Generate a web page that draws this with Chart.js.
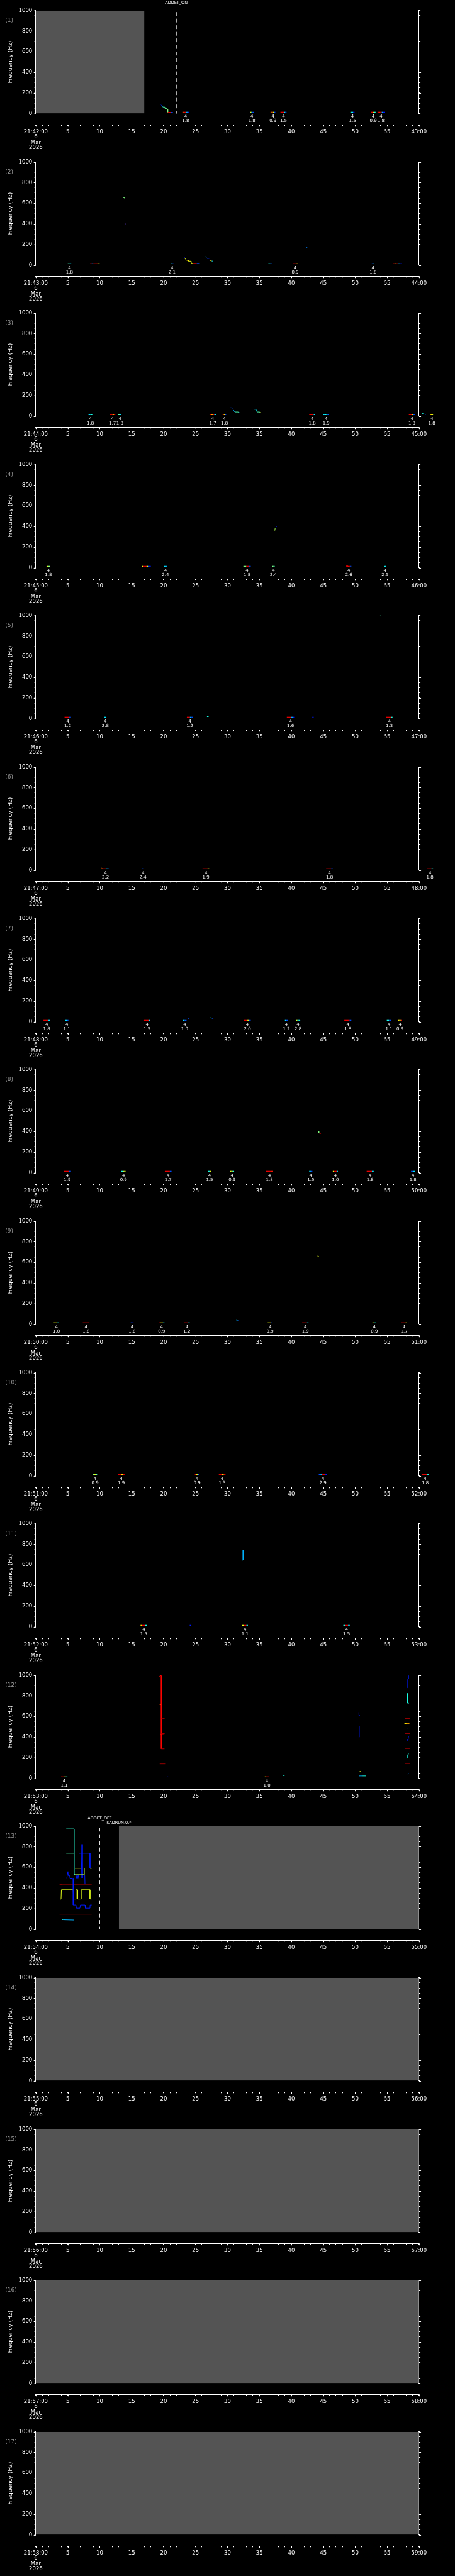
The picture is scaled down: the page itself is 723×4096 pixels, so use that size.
<!DOCTYPE html>
<html>
<head>
<meta charset="utf-8">
<script src="https://cdn.jsdelivr.net/npm/chart.js@4.4.1/dist/chart.umd.min.js"></script>
<style>
  html, body { margin: 0; padding: 0; background: #000; }
  #wrap { position: relative; width: 723px; height: 4096px; overflow: hidden; background: #000; }
  #wrap canvas { position: absolute; left: 0; }
</style>
</head>
<body>
<div id="wrap"></div>
<script>
// minute of each one-minute panel (21:42 ... 21:58), date under the first tick
var startMinutes = [42, 43, 44, 45, 46, 47, 48, 49, 50, 51, 52, 53, 54, 55, 56, 57, 58];
var DAY = '6', MONTH = 'Mar', YEAR = '2026';
var DETECT_N = '4';      // upper label on every detection
var EVENT_FREQ = 14;     // detections sit on the lowest bin (Hz)

// periods with no data (grey), seconds into the panel
var noData = [[0, 17], null, null, null, null, null, null, null, null, null, null, null, [13, 60], [0, 60], [0, 60], [0, 60], [0, 60]];

// markers: [second, text, kind]
var mk01 = [[22.0, 'ADDET_ON', 'line']];
var mk13 = [[10.0, 'ADDET_OFF', 'line'], [13.0, '$ADRUN,0,*', 'note']];

// detections: [start s, end s, score label (or null), colour levels 0..1]
var ev01 = [[22.95, 23.95, '1.8', [0.8, 0.9, 0.9, 0.3, 0.15]], [33.55, 34.1, '1.8', [0.6, 0.45, 0.2]], [36.75, 37.5, '0.9', [0.75, 0.9, 0.6, 0.2]],
  [38.3, 39.25, '1.5', [0.9, 0.9, 0.9, 0.35, 0.2]], [49.25, 49.9, '1.5', [0.4, 0.35, 0.15]], [52.45, 53.2, '0.9', [0.9, 0.9, 0.6, 0.4]],
  [53.5, 54.6, '1.8', [0.9, 0.85, 0.9, 0.3, 0.15]]];
var ev02 = [[5.0, 5.55, '1.8', [0.45, 0.35]], [8.5, 10.0, null, [0.9, 0.25, 0.9, 0.9, 0.85, 0.6]], [21.1, 21.55, '2.1', [0.4, 0.2]],
  [36.4, 37.05, null, [0.4, 0.2]], [40.2, 41.0, '0.9', [0.9, 0.9, 0.7]], [52.6, 53.0, '1.8', [0.2, 0.3]], [55.9, 57.25, null, [0.9, 0.7, 0.9, 0.3, 0.15]]];
var ev03 = [[8.25, 8.85, '1.8', [0.35, 0.4]], [11.55, 12.45, '1.7', [0.9, 0.9, 0.7, 0.9]], [12.9, 13.4, '1.8', [0.45, 0.35]],
  [27.2, 28.2, '1.7', [0.9, 0.7, 0.9, 0.35]], [29.25, 29.8, '1.8', [0.9, 0.65, 0.2]], [42.8, 43.75, '1.8', [0.9, 0.9, 0.9, 0.35]],
  [45.0, 45.9, '1.9', [0.35, 0.4, 0.35, 0.2]], [58.4, 59.35, '1.8', [0.9, 0.9, 0.65, 0.2]], [61.8, 62.2, '1.8', [0.65, 0.6]]];
var ev04 = [[1.68, 2.27, '1.8', [0.6, 0.5]], [16.65, 18.0, null, [0.6, 0.9, 0.9, 0.6, 0.2, 0.15]], [20.1, 20.5, '2.4', [0.35, 0.3]],
  [32.5, 33.65, '1.8', [0.5, 0.5, 0.9, 0.9, 0.2]], [37.0, 37.4, '2.4', [0.5, 0.45]], [48.6, 49.4, '2.6', [0.9, 0.9, 0.95, 0.2]], [54.5, 54.85, '2.5', [0.4, 0.35]]];
var ev05 = [[4.5, 5.5, '1.2', [0.9, 0.9, 0.9, 0.2]], [10.7, 11.05, '2.8', [0.35, 0.35]], [23.65, 24.6, '1.2', [0.9, 0.9, 0.3, 0.2]],
  [39.3, 40.45, '1.6', [0.9, 0.9, 0.9, 0.3, 0.15]], [43.3, 43.5, null, [0.15]], [54.85, 55.85, '1.3', [0.9, 0.9, 0.9, 0.4]]];
var ev06 = [[10.35, 11.45, '2.2', [0.9, 0.9, 0.9, 0.35, 0.2]], [16.65, 16.9, '2.4', [0.2]], [26.1, 27.15, '1.9', [0.9, 0.9, 0.9, 0.6]],
  [45.45, 46.5, '1.8', [0.9, 0.9, 0.9, 0.2]], [61.2, 62.2, '1.8', [0.9, 0.9, 0.9, 0.4]]];
var ev07 = [[1.2, 2.2, '1.8', [0.9, 0.9, 0.9, 0.35]], [4.6, 5.1, '1.1', [0.35, 0.2]], [16.95, 17.9, '1.5', [0.9, 0.9, 0.9, 0.35]],
  [23.0, 23.6, '1.0', [0.35, 0.2]], [32.6, 33.65, '2.0', [0.9, 0.9, 0.6, 0.2]], [39.0, 39.45, '1.2', [0.35, 0.2]], [40.7, 41.4, '2.8', [0.6, 0.45, 0.35]],
  [48.3, 49.4, '1.8', [0.9, 0.9, 0.9, 0.2]], [54.95, 55.65, '1.1', [0.4, 0.2]], [56.7, 57.35, '0.9', [0.65, 0.6, 0.9]]];
var ev08 = [[4.35, 5.5, '1.9', [0.9, 0.9, 0.9, 0.2]], [13.4, 14.05, '0.9', [0.4, 0.55, 0.6]], [20.2, 21.25, '1.7', [0.9, 0.9, 0.9, 0.2]],
  [26.95, 27.45, '1.5', [0.4, 0.6]], [30.4, 31.05, '0.9', [0.6, 0.55, 0.4]], [36.0, 37.15, '1.8', [0.9, 0.9, 0.9, 0.85]], [42.8, 43.3, '1.5', [0.35, 0.2]],
  [46.5, 47.3, '1.0', [0.6, 0.9, 0.9, 0.35]], [51.8, 52.9, '1.8', [0.9, 0.9, 0.9, 0.35]], [58.75, 59.35, '1.8', [0.2, 0.35]]];
var ev09 = [[2.8, 3.65, '1.0', [0.6, 0.65, 0.4]], [7.35, 8.4, '1.8', [0.9, 0.9, 0.9, 0.9]], [14.85, 15.3, '1.8', [0.2, 0.15]],
  [19.25, 20.15, '0.9', [0.9, 0.65, 0.6, 0.35]], [23.2, 24.1, '1.2', [0.9, 0.9, 0.9, 0.35]], [36.3, 37.05, '0.9', [0.6, 0.65, 0.2]],
  [41.7, 42.7, '1.9', [0.9, 0.9, 0.9, 0.35]], [52.7, 53.3, '0.9', [0.6, 0.4]], [57.15, 58.15, '1.7', [0.9, 0.9, 0.9, 0.6]]];
var ev10 = [[8.95, 9.6, '0.9', [0.5, 0.6, 0.45]], [12.85, 13.9, '1.9', [0.9, 0.9, 0.65, 0.9]], [24.9, 25.6, '0.9', [0.9, 0.6, 0.2]],
  [28.65, 29.7, '1.3', [0.9, 0.9, 0.65, 0.9]], [44.3, 45.6, '2.9', [0.2, 0.3, 0.9, 0.9, 0.15]], [60.4, 61.5, '1.8', [0.9, 0.9, 0.9, 0.4]]];
var ev11 = [[16.4, 17.4, '1.5', [0.65, 0.9, 0.9, 0.4]], [24.1, 24.35, null, [0.15]], [32.3, 33.2, '1.1', [0.6, 0.9, 0.9, 0.4]],
  [48.15, 49.15, '1.5', [0.4, 0.9, 0.9, 0.35]]];
var ev12 = [[3.95, 4.95, '1.1', [0.9, 0.9, 0.6, 0.4]], [35.85, 36.5, '1.0', [0.65, 0.9, 0.9]]];

// tracked contours: [[ [s, Hz], ... ], colour levels per segment]
var tr01 = [[[[19.6, 86], [19.68, 80], [19.78, 72], [19.88, 64], [20.2, 63], [20.22, 50], [20.45, 49], [20.47, 44], [20.65, 44], [20.67, 13], [21.2, 13], [21.45, 13]],
  [0.15, 0.2, 0.3, 0.45, 0.45, 0.5, 0.45, 0.8, 0.5, 0.9, 0.2]]];
var tr02 = [
  [[[13.65, 664], [13.75, 660], [13.8, 652], [13.95, 650]], [0.4, 0.5, 0.5]],
  [[[13.9, 388], [13.95, 395], [14.05, 400], [14.15, 400]], [0.95, 0.95, 0.2]],
  [[[23.17, 82], [23.25, 72], [23.33, 66], [23.6, 47], [23.9, 46], [23.9, 39], [24.3, 38], [24.32, 17], [24.6, 17], [25.2, 17], [25.67, 17]],
    [0.15, 0.25, 0.6, 0.65, 0.65, 0.6, 0.6, 0.6, 0.9, 0.2]],
  [[[26.55, 82], [26.75, 70], [26.9, 64], [27.2, 67], [27.3, 66]], [0.35, 0.2, 0.15, 0.15]],
  [[[27.2, 47], [27.45, 44], [27.55, 40], [27.75, 39]], [0.65, 0.6, 0.35]],
  [[[42.35, 170], [42.5, 170]], [0.25]]];
var tr03 = [
  [[[30.57, 85], [30.84, 67], [31.16, 40], [31.7, 40], [31.75, 33], [31.97, 33]], [0.2, 0.3, 0.45, 0.45, 0.25]],
  [[[34.1, 67], [34.45, 66], [34.55, 54], [34.65, 40], [35.05, 40], [35.1, 33], [35.25, 33]], [0.35, 0.35, 0.4, 0.45, 0.5, 0.65]],
  [[[60.5, 25], [60.8, 20], [61.1, 16]], [0.4, 0.2]]];
var tr04 = [
  [[[37.4, 362], [37.45, 380], [37.55, 385], [37.6, 395], [37.75, 402]], [0.55, 0.5, 0.3, 0.15]],
  [[[48.6, 20], [48.85, 19]], [0.9]]];
var tr05 = [[[[26.8, 19], [27.05, 19]], [0.4]], [[[53.9, 997], [54.1, 995]], [0.45]]];
var tr06 = [[[[10.3, 21], [10.4, 18]], [0.75]]];
var tr07 = [[[[23.85, 33], [24.05, 33]], [0.2]], [[[27.35, 40], [27.55, 36], [27.8, 30]], [0.4, 0.2]]];
var tr08 = [[[[44.3, 405], [44.32, 385], [44.5, 382], [44.65, 380]], [0.5, 0.9, 0.95]]];
var tr09 = [[[[31.4, 40], [31.6, 35], [31.8, 33]], [0.35, 0.2]], [[[44.1, 662], [44.3, 660]], [0.6]]];
var tr11 = [[[[32.45, 742], [32.45, 648], [32.35, 645]], [0.3, 0.35]]];
var tr12 = [
  [[[19.38, 985], [19.45, 995], [19.64, 995], [19.64, 716], [19.4, 716], [19.64, 716], [19.64, 576], [20.15, 578], [19.64, 576], [19.64, 431],
    [19.45, 428], [20.15, 433], [19.64, 431], [19.64, 286], [20.15, 286]], [0.87, 0.87, 0.87, 0.8, 0.8, 0.87, 0.95, 0.95, 0.87, 0.95, 0.95, 0.95, 0.87, 0.95]],
  [[[19.4, 140], [20.25, 140]], [0.98]],
  [[[20.6, 14], [20.72, 14]], [0.15]],
  [[[38.65, 27], [38.95, 27]], [0.4]],
  [[[50.55, 633], [50.62, 633]], [0.6]],
  [[[50.6, 643], [50.6, 610], [50.72, 610]], [0.15]],
  [[[50.62, 510], [50.62, 399], [50.55, 399]], [0.15]],
  [[[50.7, 66], [50.9, 66]], [0.6]],
  [[[50.65, 23], [51.15, 23], [51.65, 23]], [0.3, 0.4]],
  [[[58.2, 878], [58.23, 878], [58.23, 960], [58.36, 965], [58.36, 997]], [0.15]],
  [[[58.18, 824], [58.18, 730], [58.4, 728]], [0.4]],
  [[[57.78, 580], [58.6, 580]], [0.98]],
  [[[57.7, 533], [58.1, 530], [58.5, 533]], [0.65, 0.72]],
  [[[58.05, 483], [58.15, 483]], [0.2]],
  [[[57.78, 434], [58.6, 434]], [0.98]],
  [[[58.36, 408], [58.3, 380], [58.27, 360], [58.2, 380]], [0.15]],
  [[[57.78, 289], [58.6, 289]], [0.98]],
  [[[58.2, 195], [58.22, 230], [58.4, 237]], [0.4]],
  [[[57.78, 143], [58.6, 143]], [0.98]],
  [[[58.1, 42], [58.4, 46]], [0.25]]];
var tr13 = [
  [[[4.76, 973], [5.99, 973], [5.99, 529], [6.12, 529]], [0.42]],
  [[[4.76, 737], [5.99, 737]], [0.45]],
  [[[6.12, 591], [7.12, 591]], [0.6]],
  [[[8.48, 591], [8.75, 591]], [0.6]],
  [[[5.99, 529], [7.6, 529], [7.6, 591]], [0.55]],
  [[[6.76, 498], [6.76, 737], [8.48, 737], [8.48, 591], [8.7, 591]], [0.15]],
  [[[7.12, 498], [7.21, 824], [7.3, 498]], [0.15]],
  [[[4.85, 495], [5.03, 560], [5.08, 520], [5.3, 520], [5.35, 495], [5.76, 495]], [0.15]],
  [[[6.3, 529], [6.4, 495], [6.5, 529], [6.6, 495], [6.7, 529]], [0.15]],
  [[[7.66, 529], [7.7, 436]], [0.15]],
  [[[5.85, 495], [5.85, 235], [6.3, 235], [6.35, 204], [6.9, 204], [6.98, 235], [7.7, 235], [7.75, 204], [8.48, 204], [8.5, 235], [8.75, 235]], [0.15]],
  [[[3.72, 433], [4.1, 433], [4.15, 436], [8.75, 436]], [0.98]],
  [[[3.81, 290], [3.95, 293], [4.0, 383], [5.85, 383], [5.9, 293], [6.3, 293], [6.3, 383], [6.53, 383], [6.53, 293], [7.12, 293], [7.12, 383],
    [8.48, 383], [8.48, 293], [8.75, 293]], [0.6]],
  [[[3.72, 146], [8.75, 146]], [0.98]],
  [[[4.08, 95], [4.3, 92], [5.99, 89]], [0.4, 0.3]]];

var panelEvents = [ev01, ev02, ev03, ev04, ev05, ev06, ev07, ev08, ev09, ev10, ev11, ev12, [], [], [], [], []];
var panelTraces = [tr01, tr02, tr03, tr04, tr05, tr06, tr07, tr08, tr09, [], tr11, tr12, tr13, [], [], [], []];
var panelMarkers = [mk01, [], [], [], [], [], [], [], [], [], [], [], mk13, [], [], [], []];

// ---- drawing ----
var S = 0.705;
var PITCH = 341.3 * S;
var FONT = 'DejaVu Sans';
Chart.defaults.font.family = FONT;

// jet colour table, like the original plot
function jet(v) {
  function c(x) { return Math.round(255 * Math.max(0, Math.min(1, x))); }
  return 'rgb(' + c(1.5 - Math.abs(4 * v - 3)) + ',' + c(1.5 - Math.abs(4 * v - 2)) + ',' + c(1.5 - Math.abs(4 * v - 1)) + ')';
}

function lineSet(points, levels, width) {
  return {
    data: points.map(function (p) { return { x: p[0], y: p[1] }; }),
    borderWidth: width,
    borderColor: jet(levels[0]),
    segment: { borderColor: function (ctx) { return jet(levels[Math.min(ctx.p0DataIndex, levels.length - 1)]); } },
    pointRadius: 0, fill: false, tension: 0, clip: false, xAxisID: 'x', yAxisID: 'y'
  };
}

// longer tick marks on the labelled values
var majorTicks = {
  id: 'majorTicks',
  afterDraw: function (chart) {
    var c = chart.ctx, xt = chart.scales.xt, y = chart.scales.y, y2 = chart.scales.y2;
    c.save();
    c.strokeStyle = '#fff';
    c.lineWidth = 1;
    c.beginPath();
    for (var v = 0; v <= 60; v += 5) {
      var px = Math.round(xt.getPixelForValue(v)) + 0.5;
      c.moveTo(px, xt.top); c.lineTo(px, xt.top + 3);
    }
    for (var f = 0; f <= 1000; f += 200) {
      var py = Math.round(y.getPixelForValue(f)) + 0.5;
      c.moveTo(y.right, py); c.lineTo(y.right - 3.2, py);
      c.moveTo(y2.left, py); c.lineTo(y2.left + 3.2, py);
    }
    c.stroke();
    c.restore();
  }
};

function makePanel(i) {
  var cv = document.createElement('canvas');
  cv.width = 723; cv.height = 241;
  cv.style.top = Math.round(i * PITCH) + 'px';
  document.getElementById('wrap').appendChild(cv);

  var ds = [];
  panelEvents[i].forEach(function (e) {
    var n = e[3].length, pts = [];
    for (var k = 0; k <= n; k++) pts.push([e[0] + k * (e[1] - e[0]) / n, EVENT_FREQ]);
    ds.push(lineSet(pts, e[3], 1.3));
  });
  panelTraces[i].forEach(function (t) { ds.push(lineSet(t[0], t[1], 1)); });
  panelMarkers[i].forEach(function (m) {
    if (m[2] !== 'line') return;
    ds.push({ data: [{ x: m[0], y: 985 }, { x: m[0], y: 0 }], borderColor: '#fff', borderWidth: 1, borderDash: [6, 4.5],
      pointRadius: 0, fill: false, clip: false, xAxisID: 'x', yAxisID: 'y' });
  });
  if (noData[i]) {
    ds.push({ data: [{ x: noData[i][0], y: 1000 }, { x: noData[i][1], y: 1000 }], borderWidth: 0, borderColor: 'rgba(0,0,0,0)',
      backgroundColor: '#545454', fill: 'origin', pointRadius: 0, xAxisID: 'x', yAxisID: 'y' });
  }

  var textPlugin = {
    id: 'panelText',
    afterDraw: function (chart) {
      var c = chart.ctx, a = chart.chartArea, xs = chart.scales.x;
      c.save();
      c.textBaseline = 'middle';
      c.fillStyle = '#9a9a9a';
      c.font = '9px "' + FONT + '"';
      c.textAlign = 'left';
      c.fillText('(' + (i + 1) + ')', 8.2, a.top + 16.4);
      c.fillStyle = '#fff';
      c.textAlign = 'center';
      c.font = '7px "' + FONT + '"';
      panelEvents[i].forEach(function (e) {
        if (e[2] === null) return;
        var x = xs.getPixelForValue((e[0] + e[1]) / 2);
        c.fillText(DETECT_N, x, a.bottom + 4.6);
        c.fillText(e[2], x, a.bottom + 11.3);
      });
      c.font = '6.5px "' + FONT + '"';
      panelMarkers[i].forEach(function (m) {
        c.fillText(m[1], xs.getPixelForValue(m[0]), m[2] === 'line' ? 4.4 : 11.6);
      });
      c.restore();
    }
  };

  var m = startMinutes[i];
  new Chart(cv, {
    type: 'line',
    data: { datasets: ds },
    options: {
      responsive: false, animation: false, devicePixelRatio: 1, events: [],
      layout: { padding: { top: 16.7, left: 0, right: 0, bottom: 0 } },
      plugins: { legend: { display: false }, tooltip: { enabled: false } },
      scales: {
        x: {
          type: 'linear', position: 'bottom', weight: 0,
          afterDataLimits: function (s) { s.min = 0; s.max = 60; },
          ticks: { display: false }, grid: { display: false }, border: { display: false },
          afterFit: function (s) { s.height = 25 * S; }
        },
        xt: {
          type: 'linear', position: 'bottom', weight: 1, min: 0, max: 60,
          ticks: {
            stepSize: 1, autoSkip: false, maxRotation: 0, minRotation: 0, color: '#fff', padding: 5,
            font: { size: 8.5, lineHeight: 1.0 },
            callback: function (v) {
              if (v === 0) return ['21:' + m + ':00', DAY, MONTH, YEAR];
              if (v === 60) return (m + 1) + ':00';
              return v % 5 === 0 ? String(v) : '';
            }
          },
          grid: { drawOnChartArea: false, color: '#fff', tickLength: 2 },
          border: { color: '#fff', width: 1 },
          afterFit: function (s) { s.height = 241 - 256.2 * S - 25 * S; }
        },
        y: {
          position: 'left', min: 0, max: 1000, z: 1,
          ticks: { stepSize: 50, autoSkip: false, color: '#fff', padding: 3.5, font: { size: 8.5 },
            callback: function (v) { return v % 200 === 0 ? String(v) : ''; } },
          grid: { drawOnChartArea: false, color: '#fff', tickLength: 2.2 },
          border: { color: '#fff', width: 1 },
          title: { display: true, text: 'Frequency (Hz)', color: '#fff', font: { size: 9 }, padding: { top: 11.2, bottom: 0 } },
          afterFit: function (s) { s.width = 80.7 * S; }
        },
        y2: {
          position: 'right', min: 0, max: 1000, z: 1,
          ticks: { stepSize: 50, autoSkip: false, callback: function () { return ''; } },
          grid: { drawOnChartArea: false, color: '#fff', tickLength: 2.2 },
          border: { color: '#fff', width: 1 },
          afterFit: function (s) { s.width = 723 - 944.5 * S; }
        }
      }
    },
    plugins: [textPlugin, majorTicks]
  });
}

for (var i = 0; i < startMinutes.length; i++) makePanel(i);
</script>
</body>
</html>
